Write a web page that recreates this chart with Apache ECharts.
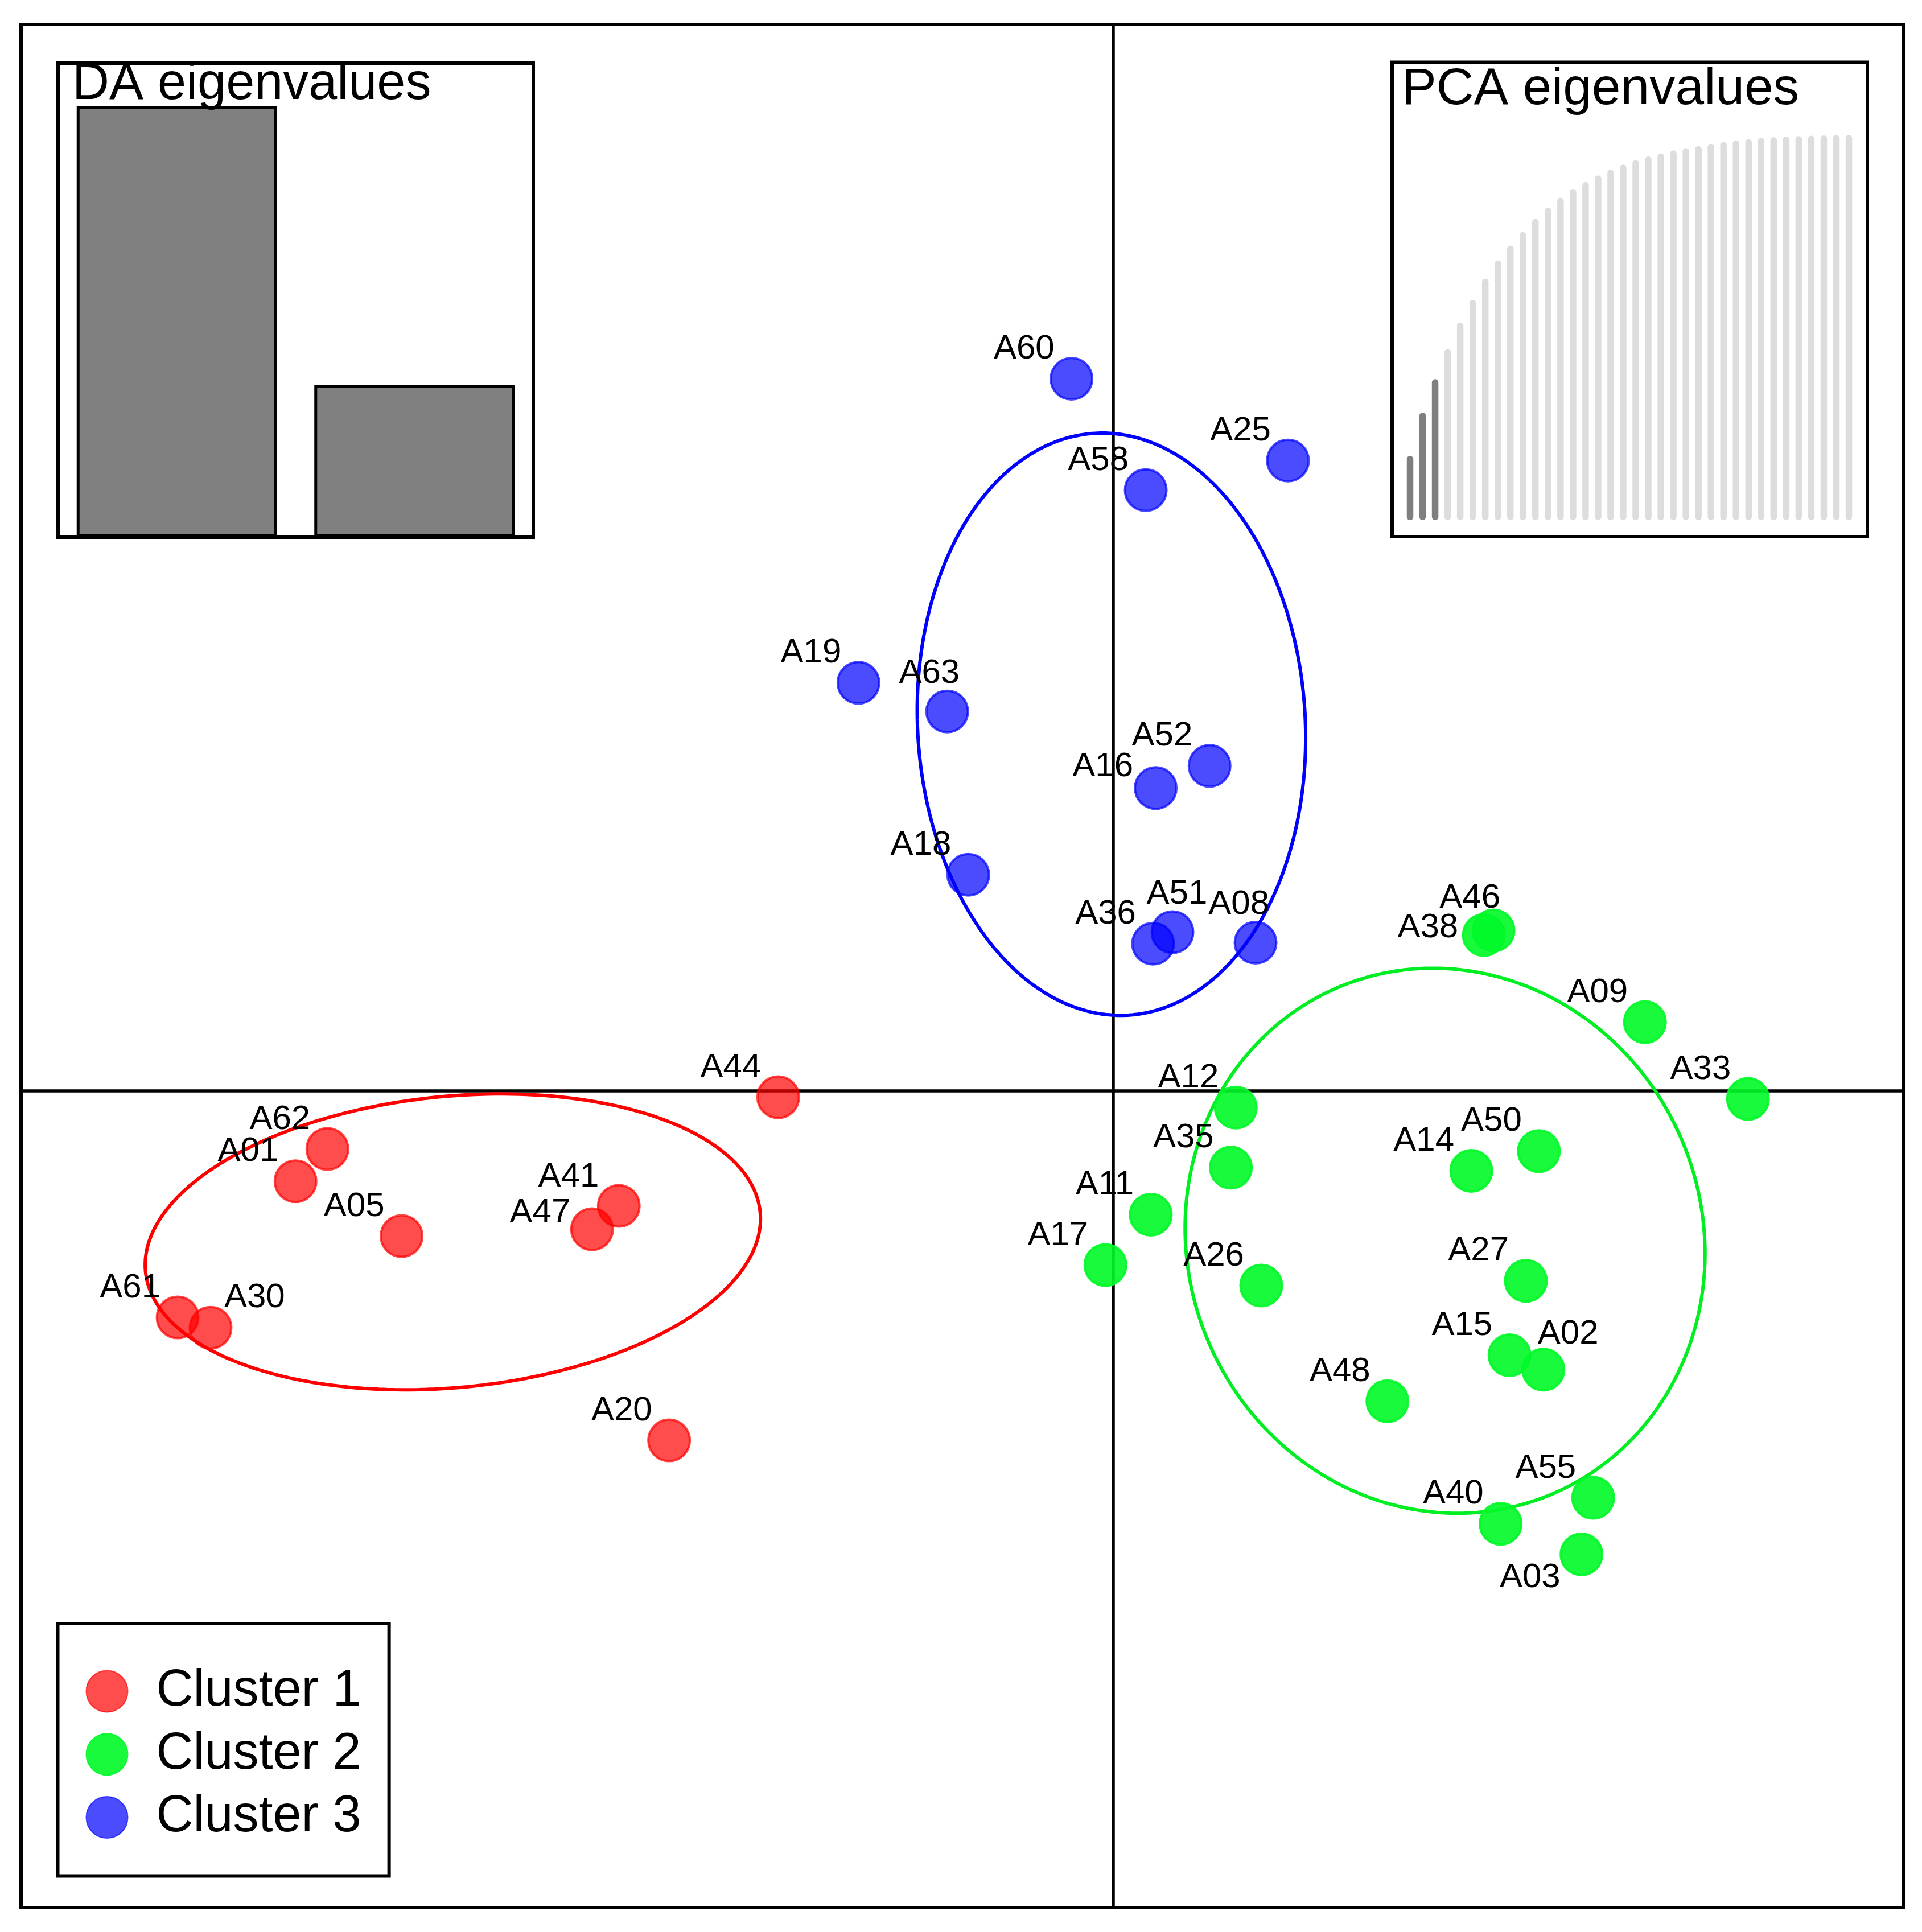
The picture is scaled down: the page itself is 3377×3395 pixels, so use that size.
<!DOCTYPE html>
<html>
<head>
<meta charset="utf-8">
<script src="https://cdn.jsdelivr.net/npm/echarts@6/dist/echarts.min.js"></script>
<style>
html,body{margin:0;padding:0;background:#fff;}
#chart{width:3377px;height:3395px;}
</style>
</head>
<body>
<div id="chart"></div>
<script>
// ---------- DATA ----------
// Discriminant function scores [name, LD1, LD2]
const cluster1 = [
  ['A44', -1.779, -0.033], ['A62', -4.172, -0.308], ['A01', -4.341, -0.479],
  ['A05', -3.778, -0.770], ['A41', -2.625, -0.610], ['A47', -2.767, -0.734],
  ['A61', -4.967, -1.202], ['A30', -4.792, -1.257], ['A20', -2.358, -1.855]
];
const cluster2 = [
  ['A46', 2.018, 0.852], ['A38', 1.967, 0.828], ['A09', 2.822, 0.366],
  ['A33', 3.369, -0.042], ['A12', 0.650, -0.088], ['A50', 2.259, -0.319],
  ['A14', 1.900, -0.424], ['A35', 0.624, -0.407], ['A11', 0.199, -0.657],
  ['A17', -0.042, -0.924], ['A26', 0.785, -1.033], ['A27', 2.190, -1.008],
  ['A15', 2.103, -1.403], ['A02', 2.283, -1.479], ['A48', 1.455, -1.647],
  ['A55', 2.547, -2.160], ['A40', 2.056, -2.298], ['A03', 2.485, -2.460]
];
const cluster3 = [
  ['A60', -0.222, 3.781], ['A25', 0.927, 3.347], ['A58', 0.172, 3.190],
  ['A19', -1.353, 2.167], ['A63', -0.882, 2.015], ['A52', 0.511, 1.726],
  ['A16', 0.225, 1.608], ['A18', -0.770, 1.148], ['A51', 0.314, 0.843],
  ['A36', 0.211, 0.782], ['A08', 0.755, 0.787]
];
// inertia ellipses: [centerX, centerY, semiMajor, semiMinor, angleDeg]
const ellipse1 = [-3.506, -0.801, 1.639, 0.773, 5.5];
const ellipse2 = [1.761, -0.795, 1.460, 1.366, 112.35];
const ellipse3 = [-0.010, 1.947, 1.547, 1.029, 93.2];
const clusterNames = ['Cluster 1', 'Cluster 2', 'Cluster 3'];
// DA eigenvalues (relative)
const daEigen = [100, 35.4];
// PCA eigenvalues, cumulative % of variance
const pcaCumVar = [16.7, 27.9, 36.6, 44.4, 51.3, 57.2, 62.7, 67.4, 71.3, 74.8,
  78.2, 81.1, 83.7, 86.0, 87.8, 89.5, 91.0, 92.3, 93.5, 94.4, 95.2, 96.0,
  96.6, 97.1, 97.7, 98.2, 98.6, 98.9, 99.2, 99.4, 99.6, 99.7, 99.8, 99.9, 100, 100];
const nPcaRetained = 3;

// ---------- LAYOUT / STYLE ----------
const FONT = "'Liberation Sans', Arial, Helvetica, sans-serif";
const LABEL_FS = 60;
const SYM = 73;
const fills = ['rgba(255,0,0,0.7)', 'rgba(0,250,40,0.9)', 'rgba(0,0,255,0.7)'];
const lines = ['#ff0000', '#00ee22', '#0000ff'];
// label placement: [dx of anchor edge from point centre, dy of baseline, align]
const labelDefault = [-28, -35, 'right'];
const labelPlace = {
  A30: [26, -36, 'left'], A47: [-36, -11.5, 'right'], A41: [-33, -34, 'right'],
  A63: [24, -50, 'right'], A16: [-37.6, -20, 'right'], A51: [-43.5, -50, 'left'],
  A08: [26, -50, 'right'], A46: [14, -39.5, 'right'], A38: [-43, 4, 'right'],
  A02: [-8, -45.6, 'left'], A03: [-35, 58, 'right']
};

function pointData(arr) {
  return arr.map(function (p) {
    const lp = labelPlace[p[0]] || labelDefault;
    return {
      name: p[0], value: [p[1], p[2]],
      label: { position: [SYM / 2 + lp[0], SYM / 2 + lp[1] - 0.35 * LABEL_FS + 6], align: lp[2], verticalAlign: 'middle' }
    };
  });
}
function ellipsePts(e) {
  const pts = [], th = e[4] * Math.PI / 180, n = 240;
  for (let i = 0; i <= n; i++) {
    const t = 2 * Math.PI * i / n;
    pts.push([e[0] + e[2] * Math.cos(t) * Math.cos(th) - e[3] * Math.sin(t) * Math.sin(th),
              e[1] + e[2] * Math.cos(t) * Math.sin(th) + e[3] * Math.sin(t) * Math.cos(th)]);
  }
  return pts;
}

const clusters = [cluster1, cluster2, cluster3];
const ellipses = [ellipse1, ellipse2, ellipse3];
const series = [];
ellipses.forEach(function (e, i) {
  series.push({
    type: 'line', xAxisIndex: 0, yAxisIndex: 0, data: ellipsePts(e),
    showSymbol: false, symbol: 'none', smooth: false, z: 2, silent: true,
    lineStyle: { color: lines[i], width: 6 }
  });
});
clusters.forEach(function (c, i) {
  series.push({
    type: 'scatter', name: clusterNames[i], xAxisIndex: 0, yAxisIndex: 0,
    data: pointData(c), symbol: 'circle', symbolSize: SYM, z: 3,
    itemStyle: { color: fills[i], borderColor: fills[i], borderWidth: 4, opacity: 1 },
    label: { show: true, formatter: '{b}', fontSize: LABEL_FS, fontFamily: FONT, color: '#000' }
  });
});
// DA inset bars
series.push({
  type: 'bar', xAxisIndex: 1, yAxisIndex: 1, data: daEigen, barWidth: 352, z: 5,
  itemStyle: { color: '#808080', borderColor: '#000', borderWidth: 5 }
});
// PCA inset bars
series.push({
  type: 'bar', xAxisIndex: 2, yAxisIndex: 2, barWidth: 11.5, z: 5,
  data: pcaCumVar.map(function (v, i) {
    return { value: [i + 1, v], itemStyle: { color: i < nPcaRetained ? '#7f7f7f' : '#dddddd' } };
  }),
  itemStyle: { borderRadius: 5.75 }
});

const hiddenAxis = { axisLabel: { show: false }, axisTick: { show: false }, splitLine: { show: false }, axisLine: { show: false } };

const option = {
  animation: false,
  backgroundColor: '#fff',
  grid: [
    { left: 37, top: 43, width: 3308, height: 3309, show: true, borderColor: '#000', borderWidth: 6, backgroundColor: 'transparent', z: 0 },
    { left: 102, top: 111, width: 835, height: 833, show: true, borderColor: '#000', borderWidth: 6, backgroundColor: '#fff', z: 4 },
    { left: 2446, top: 109.5, width: 835, height: 833.5, show: true, borderColor: '#000', borderWidth: 6, backgroundColor: '#fff', z: 4 }
  ],
  xAxis: [
    { type: 'value', gridIndex: 0, min: -5.798, max: 4.196,
      axisLine: { show: true, onZero: true, lineStyle: { color: '#000', width: 5.5 } },
      axisTick: { show: false }, axisLabel: { show: false }, splitLine: { show: false } },
    Object.assign({ type: 'category', gridIndex: 1, data: ['1', '2'], boundaryGap: true }, hiddenAxis),
    Object.assign({ type: 'value', gridIndex: 2, min: -0.43, max: 37.475 }, hiddenAxis)
  ],
  yAxis: [
    { type: 'value', gridIndex: 0, min: -4.335, max: 5.662,
      axisLine: { show: true, onZero: true, lineStyle: { color: '#000', width: 5.5 } },
      axisTick: { show: false }, axisLabel: { show: false }, splitLine: { show: false } },
    Object.assign({ type: 'value', gridIndex: 1, min: 0, max: 110 }, hiddenAxis),
    Object.assign({ type: 'value', gridIndex: 2, min: -4.285, max: 118.87 }, hiddenAxis)
  ],
  legend: {
    data: clusterNames, orient: 'vertical', left: 101.5, top: 2853,
    itemWidth: 73, itemHeight: 73, itemGap: 20.8, icon: 'circle',
    padding: [74, 49, 58, 49], borderColor: '#000', borderWidth: 6, backgroundColor: '#fff',
    selectedMode: false,
    textStyle: { fontSize: 90, fontFamily: FONT, color: '#000', padding: [0, 0, 0, 45] }
  },
  graphic: [
    { type: 'text', z: 100, left: 127, top: 149.5 - 45, style: { text: 'DA eigenvalues', font: '90px ' + FONT, fill: '#000' } },
    { type: 'text', z: 100, left: 2463, top: 157.5 - 45, style: { text: 'PCA eigenvalues', font: '91px ' + FONT, fill: '#000' } }
  ],
  series: series
};
const chart = echarts.init(document.getElementById('chart'));
chart.setOption(option);
</script>
</body>
</html>
